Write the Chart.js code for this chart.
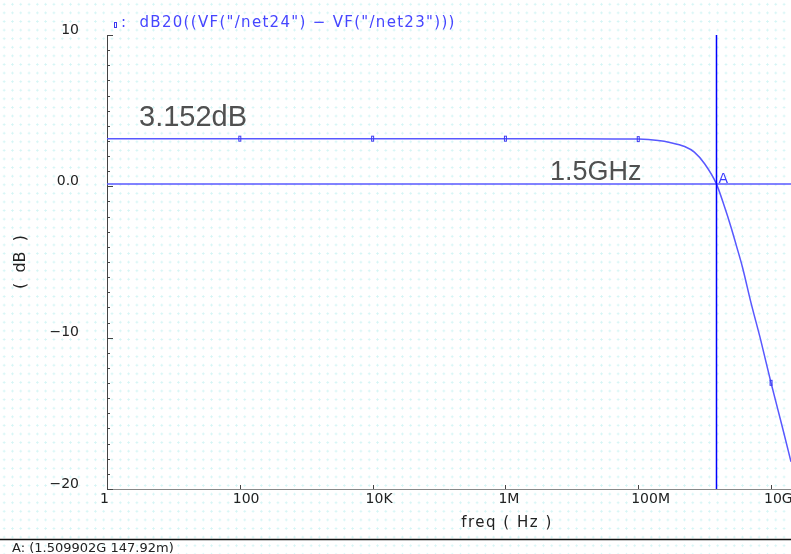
<!DOCTYPE html>
<html>
<head>
<meta charset="utf-8">
<script src="https://cdn.jsdelivr.net/npm/chart.js@4.4.1/dist/chart.umd.min.js"></script>
<style>
html, body { margin: 0; padding: 0; background: #fff; }
#wrap {
  position: relative; width: 791px; height: 554px;
  background-image: radial-gradient(circle, rgba(170,235,235,0.5) 0.9px, transparent 1.3px);
  background-size: 8.3px 8.6px;
}
</style>
</head>
<body>
<div id="wrap"><canvas id="bode"></canvas></div>
<script>
// sweep points (Hz) and magnitude (dB)
var freqs = [1, 10, 100, 1e3, 1e4, 1e5, 1e6, 1e7, 1e8, 2e8, 3e8, 5e8, 7e8, 1e9,
             1.509902e9, 2e9, 2.5e9, 3e9, 3.7e9, 5e9, 7e9, 1e10, 1.5e10, 2e10];
var gainDb = [3.152, 3.152, 3.152, 3.152, 3.152, 3.152, 3.152, 3.150, 3.12, 3.03, 2.90, 2.63, 2.26, 1.49,
              0.148, -1.37, -2.7, -3.9, -5.31, -7.7, -10.16, -12.98, -16.0, -18.2];
var markerFreqs = [100, 1e4, 1e6, 1e8, 1e10];
var xTickVals = [1, 100, 1e4, 1e6, 1e8, 1e10];
var xTickLabels = ['1', '100', '10K', '1M', '100M', '10G'];
var yTickVals = [10, 0, -10, -20];
var yTickLabels = ['10', '0.0', '\u221210', '\u221220'];
var cursorA = { freq: 1.509902e9, db: 0.14792 };
var traceName = ':  dB20((VF("/net24") \u2212 VF("/net23")))';

// little hollow box used as the trace marker
function makeMarker() {
  var c = document.createElement('canvas');
  c.width = 5; c.height = 8;
  var g = c.getContext('2d');
  g.strokeStyle = 'rgb(60,60,240)';
  g.lineWidth = 1;
  g.strokeRect(1.5, 1.5, 2, 5);
  return c;
}
var marker = makeMarker();

var points = freqs.map(function(f, i) { return { x: f, y: gainDb[i] }; });

var extras = {
  id: 'extras',
  afterDatasetsDraw: function(chart) {
    var ctx = chart.ctx, a = chart.chartArea;
    var xs = chart.scales.x, ys = chart.scales.y;
    ctx.save();

    // inward ticks on the left axis
    ctx.strokeStyle = '#444';
    ctx.lineWidth = 1;
    ctx.beginPath();
    for (var v = -20; v <= 10; v++) {
      var py = Math.round(ys.getPixelForValue(v)) + 0.5;
      var len = (v % 10 === 0) ? 6 : 3;
      ctx.moveTo(a.left, py); ctx.lineTo(a.left + len, py);
    }
    // upward ticks on the bottom axis
    xTickVals.forEach(function(t) {
      var px = Math.round(xs.getPixelForValue(t)) + 0.5;
      ctx.moveTo(px, a.bottom); ctx.lineTo(px, a.bottom - 4);
    });
    ctx.stroke();

    // cursor A
    var cx = xs.getPixelForValue(cursorA.freq);
    var cy = ys.getPixelForValue(cursorA.db);
    ctx.strokeStyle = 'rgb(88,88,255)';
    ctx.lineWidth = 1.5;
    ctx.beginPath();
    ctx.moveTo(a.left, cy); ctx.lineTo(a.right, cy);
    ctx.stroke();
    ctx.strokeStyle = '#0000ff';
    ctx.beginPath();
    ctx.moveTo(cx, a.top); ctx.lineTo(cx, a.bottom);
    ctx.stroke();

    ctx.fillStyle = 'rgb(60,60,255)';
    ctx.font = '14px "DejaVu Sans"';
    ctx.textBaseline = 'alphabetic';
    ctx.textAlign = 'left';
    ctx.fillText('A', cx + 2, cy - 1);

    // big annotation labels
    var flatY = ys.getPixelForValue(gainDb[0]);
    ctx.fillStyle = '#505050';
    ctx.font = '29px "Liberation Sans"';
    ctx.fillText('3.152dB', a.left + 32, flatY - 13);
    ctx.font = '27px "Liberation Sans"';
    ctx.textAlign = 'right';
    ctx.fillText('1.5GHz', cx - 75, cy - 4);

    // legend line
    ctx.drawImage(marker, 113, 21);
    ctx.textAlign = 'left';
    ctx.font = '15px "DejaVu Sans"';
    ctx.letterSpacing = '1.3px';
    ctx.fillStyle = 'rgb(70,70,255)';
    ctx.fillText(traceName, 121, 27);

    // x axis title
    ctx.fillStyle = '#222';
    ctx.letterSpacing = '1.5px';
    ctx.textAlign = 'center';
    ctx.fillText('freq ( Hz )', 507, 527);

    // footer with cursor readout
    ctx.letterSpacing = '0px';
    ctx.strokeStyle = '#111';
    ctx.lineWidth = 1.5;
    ctx.beginPath();
    ctx.moveTo(0, 539.5); ctx.lineTo(chart.width, 539.5);
    ctx.stroke();
    ctx.font = '13px "DejaVu Sans"';
    ctx.textAlign = 'left';
    ctx.fillText('A: (1.509902G 147.92m)', 12, 552);
    ctx.restore();
  }
};

new Chart(document.getElementById('bode'), {
  type: 'line',
  data: {
    datasets: [{
      label: 'dB20',
      data: points,
      borderColor: 'rgb(88,88,255)',
      borderWidth: 1.5,
      cubicInterpolationMode: 'monotone',
      pointStyle: marker,
      pointRadius: function(c) {
        var p = c.raw;
        return p && markerFreqs.indexOf(p.x) >= 0 ? 3 : 0;
      },
      pointHoverRadius: 0
    }]
  },
  options: {
    responsive: true,
    maintainAspectRatio: false,
    animation: false,
    layout: { padding: { top: 35, left: 0, right: 0, bottom: 0 } },
    plugins: { legend: { display: false }, tooltip: { enabled: false } },
    scales: {
      x: {
        type: 'logarithmic',
        min: 1,
        max: 2e10,
        grid: { display: false },
        border: { display: true, color: '#888', width: 1 },
        afterBuildTicks: function(s) {
          s.ticks = xTickVals.map(function(v) { return { value: v }; });
        },
        afterFit: function(s) {
          s.height = 65;
          s.paddingLeft = 0; s.paddingRight = 0;
        },
        ticks: {
          autoSkip: false,
          maxRotation: 0,
          align: 'start',
          labelOffset: -7,
          padding: -3,
          color: '#222',
          font: { family: 'DejaVu Sans', size: 14, lineHeight: 0.8 },
          callback: function(v) {
            var i = xTickVals.indexOf(v);
            return i >= 0 ? xTickLabels[i] : '';
          }
        }
      },
      y: {
        min: -20,
        max: 10,
        grid: { display: false },
        border: { display: true, color: '#444', width: 1 },
        afterBuildTicks: function(s) {
          s.ticks = yTickVals.map(function(v) { return { value: v }; });
        },
        afterFit: function(s) {
          s.width = 107;
          s.paddingTop = 0; s.paddingBottom = 0;
        },
        title: {
          display: true,
          text: '(  dB  )',
          color: '#222',
          font: { family: 'DejaVu Sans', size: 16 },
          padding: { top: 11, bottom: 0 }
        },
        ticks: {
          autoSkip: false,
          padding: 20,
          labelOffset: -5,
          color: '#222',
          font: { family: 'DejaVu Sans', size: 14 },
          callback: function(v) {
            var i = yTickVals.indexOf(v);
            return i >= 0 ? yTickLabels[i] : '';
          }
        }
      }
    }
  },
  plugins: [extras]
});
</script>
</body>
</html>
